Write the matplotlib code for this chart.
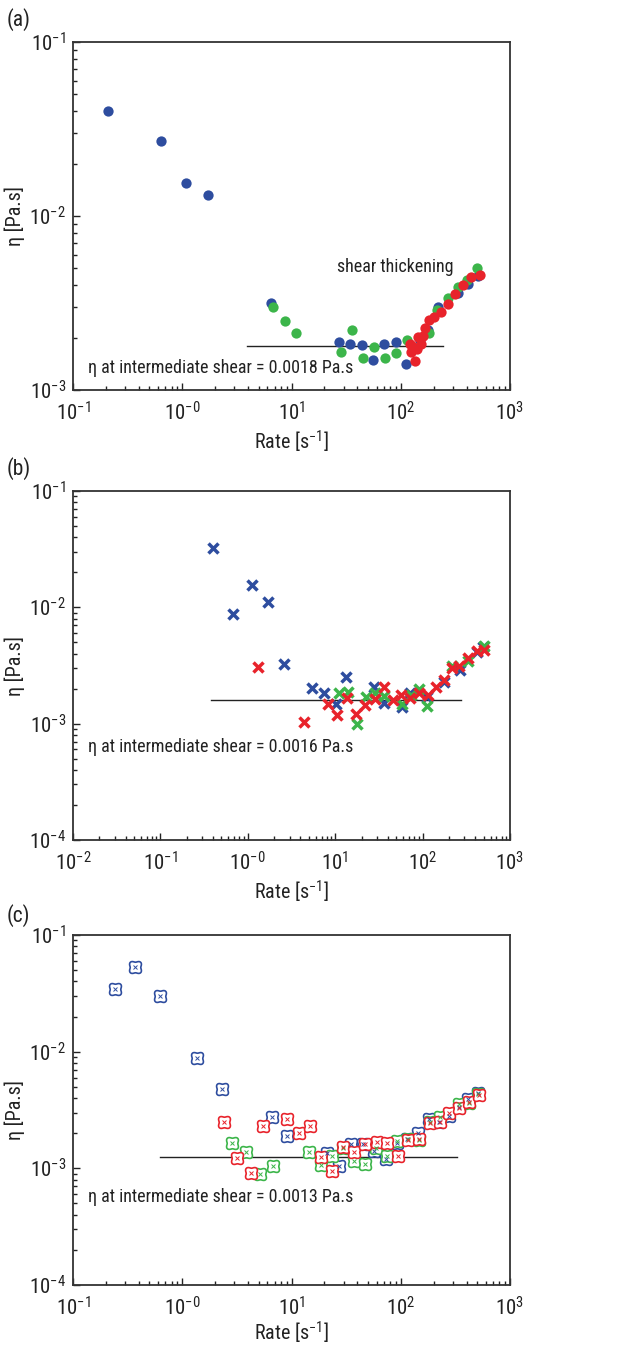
import numpy as np
import matplotlib
matplotlib.use('Agg')
import matplotlib.pyplot as plt
from matplotlib.path import Path
from matplotlib import font_manager as fm
from matplotlib.ticker import FixedLocator, FixedFormatter, NullFormatter

_avail = set(f.name for f in fm.fontManager.ttflist)
_pref = ['Liberation Sans Narrow', 'Arial Narrow', 'Roboto Condensed', 'PT Sans Narrow',
         'Archivo Narrow', 'Asap Condensed', 'Liberation Sans']
MAIN = next(n for n in _pref if n in _avail)
FONT = [MAIN, 'DejaVu Sans']
plt.rcParams['font.family'] = FONT
plt.rcParams['mathtext.fontset'] = 'custom'
plt.rcParams['mathtext.rm'] = MAIN
plt.rcParams['mathtext.it'] = MAIN + ':italic'
plt.rcParams['mathtext.bf'] = MAIN + ':bold'
plt.rcParams['mathtext.default'] = 'regular'

BLUE = '#2e4d9f'
GREEN = '#3cb54a'
RED = '#e8232b'
INK = '#222222'

# ---------------- data: panel (a) ----------------
a_blue_x = [0.207, 0.638, 1.08, 1.72, 6.45, 27.0, 34.3, 43.8, 56.1, 70.8, 89.8, 111.6,
            130, 150, 178.6, 220.6, 336, 415, 513]
a_blue_y = [0.040, 0.0271, 0.0155, 0.01323, 0.00317, 0.00189, 0.00185, 0.00182, 0.00149,
            0.00185, 0.00189, 0.00142, 0.00175, 0.00195, 0.00221, 0.00301, 0.00359, 0.00409, 0.00451]
a_green_x = [6.82, 8.71, 11.1, 28.6, 36.1, 45.5, 57.3, 71.8, 90.6, 113, 181, 213, 269, 332, 401, 495]
a_green_y = [0.00298, 0.00249, 0.00213, 0.00166, 0.00221, 0.00153, 0.00177, 0.00153, 0.00164,
             0.00194, 0.00214, 0.00288, 0.00336, 0.00392, 0.00431, 0.00503]
a_red_x = [121.6, 124, 128, 135, 140, 145, 152, 161, 168, 181, 203, 232, 273, 314, 374, 440, 531]
a_red_y = [0.00185, 0.00166, 0.00178, 0.00146, 0.00173, 0.00202, 0.00185, 0.00204, 0.00226,
           0.00252, 0.00264, 0.00282, 0.00312, 0.00356, 0.00401, 0.00448, 0.00457]
a_line_x = [3.94, 245]
a_line_y = [0.0018, 0.0018]

# ---------------- data: panel (b) ----------------
b_blue_x = [0.404, 0.682, 1.12, 1.69, 2.62, 5.47, 7.51, 10.1, 13.2, 27.8, 36.2, 57.6, 71.8,
            111, 177, 268, 416, 496]
b_blue_y = [0.0324, 0.00873, 0.0157, 0.01107, 0.00327, 0.00203, 0.00184, 0.00149, 0.00250,
            0.00205, 0.00152, 0.00138, 0.00182, 0.00170, 0.00229, 0.00288, 0.00414, 0.00457]
b_red_x = [1.30, 4.44, 8.2, 10.6, 13.5, 17.3, 22.1, 28.5, 36.2, 45.4, 56.6, 71.8, 91.8, 114,
           142, 177, 215, 263, 333, 416, 504]
b_red_y = [0.00306, 0.00104, 0.00149, 0.00119, 0.00165, 0.00122, 0.00144, 0.00163, 0.00205,
           0.00161, 0.00178, 0.00167, 0.00184, 0.00176, 0.00208, 0.00237, 0.00298, 0.00312,
           0.00370, 0.00423, 0.00434]
b_green_x = [11.0, 13.9, 17.9, 22.5, 28.5, 36.2, 57.6, 73.1, 91.8, 113, 219, 333, 504]
b_green_y = [0.00182, 0.00188, 0.00099, 0.00171, 0.00185, 0.00173, 0.00147, 0.00178, 0.00197,
             0.00142, 0.00312, 0.00347, 0.00463]
b_line_x = [0.38, 275]
b_line_y = [0.0016, 0.0016]

# ---------------- data: panel (c) ----------------
c_blue_x = [0.242, 0.369, 0.625, 1.36, 2.30, 6.58, 9.03, 21.3, 27.4, 35.1, 45.5, 57.3, 72.8,
            91.8, 115, 145, 181, 226, 279, 344, 416, 513]
c_blue_y = [0.0344, 0.0532, 0.0302, 0.00889, 0.00479, 0.00277, 0.00190, 0.00136, 0.00105,
            0.00162, 0.00161, 0.00142, 0.00120, 0.00166, 0.00177, 0.00200, 0.00265, 0.00251,
            0.00281, 0.00338, 0.00393, 0.00445]
c_red_x = [2.41, 3.19, 4.22, 5.44, 9.03, 11.8, 14.8, 18.6, 23.6, 29.8, 37.6, 47.4, 60.2, 75.4,
           93.8, 117, 147, 185, 229, 279, 344, 425, 520]
c_red_y = [0.00248, 0.00123, 0.00092, 0.00232, 0.00265, 0.00200, 0.00231, 0.00124, 0.00094,
           0.00151, 0.00139, 0.00162, 0.00169, 0.00166, 0.00128, 0.00175, 0.00177, 0.00243,
           0.00248, 0.00300, 0.00327, 0.00373, 0.00425]
c_green_x = [2.87, 3.84, 5.15, 6.73, 14.6, 18.5, 23.6, 29.8, 37.3, 47.1, 59.0, 74.3, 93.1, 116,
             148, 185, 229, 344, 422, 513]
c_green_y = [0.00166, 0.00137, 0.00089, 0.00105, 0.00139, 0.00106, 0.00128, 0.00148, 0.00116,
             0.00110, 0.00148, 0.00128, 0.00171, 0.00177, 0.00175, 0.00248, 0.00274, 0.00356,
             0.00361, 0.00431]
c_line_x = [0.625, 325]
c_line_y = [0.00125, 0.00125]

# ---------------- ticks / labels ----------------
xt_a = [0.1, 1, 10, 100, 1000]
xl_a = ['$10^{-1}$', '$10^{-0}$', '$10^{1}$', '$10^{2}$', '$10^{3}$']
xt_b = [0.01, 0.1, 1, 10, 100, 1000]
xl_b = ['$10^{-2}$', '$10^{-1}$', '$10^{-0}$', '$10^{1}$', '$10^{2}$', '$10^{3}$']
yt_a = [1e-3, 1e-2, 1e-1]
yl_a = ['$10^{-3}$', '$10^{-2}$', '$10^{-1}$']
yt_bc = [1e-4, 1e-3, 1e-2, 1e-1]
yl_bc = ['$10^{-4}$', '$10^{-3}$', '$10^{-2}$', '$10^{-1}$']

texts = ['\u03b7 at intermediate shear = 0.0018 Pa.s',
         '\u03b7 at intermediate shear = 0.0016 Pa.s',
         '\u03b7 at intermediate shear = 0.0013 Pa.s']
panel_labels = ['(a)', '(b)', '(c)']
xlabel = 'Rate [s$^{-1}$]'
ylabel = '\u03b7 [Pa.s]'

fig = plt.figure(figsize=(6.18, 13.48), dpi=100)
W, H = 618.0, 1348.0


def make_axes(top_px, bot_px):
    return fig.add_axes([73 / W, 1 - bot_px / H, 437 / W, (bot_px - top_px) / H])


def minor_list(lo, hi):
    out = []
    for e in range(lo, hi):
        for m in range(2, 10):
            out.append(m * 10.0 ** e)
    return out


def style(ax, xt, xl, yt, yl):
    ax.set_xscale('log')
    ax.set_yscale('log')
    ax.set_xlim(xt[0], xt[-1])
    ax.set_ylim(yt[0], yt[-1])
    ax.xaxis.set_major_locator(FixedLocator(xt))
    ax.xaxis.set_major_formatter(FixedFormatter(xl))
    ax.yaxis.set_major_locator(FixedLocator(yt))
    ax.yaxis.set_major_formatter(FixedFormatter(yl))
    ax.xaxis.set_minor_locator(FixedLocator(minor_list(int(round(np.log10(xt[0]))), int(round(np.log10(xt[-1]))))))
    ax.yaxis.set_minor_locator(FixedLocator(minor_list(int(round(np.log10(yt[0]))), int(round(np.log10(yt[-1]))))))
    ax.xaxis.set_minor_formatter(NullFormatter())
    ax.yaxis.set_minor_formatter(NullFormatter())
    ax.tick_params(which='both', direction='in', top=False, right=False, labelsize=15,
                   colors=INK, width=1.0)
    ax.tick_params(which='major', length=5)
    ax.tick_params(which='minor', length=3)
    ax.tick_params(axis='x', which='major', pad=8)
    ax.tick_params(axis='y', which='major', pad=5)
    for s in ax.spines.values():
        s.set_linewidth(1.3)
        s.set_color('#333333')
    ax.set_xlabel(xlabel, fontsize=14.5, color=INK)
    ax.set_ylabel(ylabel, fontsize=14.5, color=INK)
    ax.xaxis.set_label_coords(0.5, -0.112)
    ax.yaxis.set_label_coords(-0.11, 0.5)


# clover marker for panel (c)
th = np.linspace(0, 2 * np.pi, 121)
r = 1 - 0.16 * np.cos(4 * th)
clover = Path(np.column_stack([r * np.cos(th), r * np.sin(th)]), closed=True)

# ---------- panel (a) ----------
ax = make_axes(42, 390)
style(ax, xt_a, xl_a, yt_a, yl_a)
ax.plot(a_line_x, a_line_y, color=INK, lw=1.0, zorder=2)
for xs, ys, c in [(a_blue_x, a_blue_y, BLUE), (a_green_x, a_green_y, GREEN), (a_red_x, a_red_y, RED)]:
    ax.plot(xs, ys, 'o', ms=7.4, color=c, mec=c, mew=0, ls='none', zorder=3)
ax.text(0.035, 0.062, texts[0], transform=ax.transAxes, fontsize=13, va='center', ha='left', color=INK)
ax.text(0.603, 0.354, 'shear thickening', transform=ax.transAxes, fontsize=13, va='center', ha='left', color=INK)
fig.text(7 / W, 1 - 20 / H, panel_labels[0], fontsize=15.5, va='center', ha='left', color=INK)

# ---------- panel (b) ----------
ax = make_axes(491, 840)
style(ax, xt_b, xl_b, yt_bc, yl_bc)
ax.plot(b_line_x, b_line_y, color=INK, lw=1.0, zorder=2)
for xs, ys, c in [(b_blue_x, b_blue_y, BLUE), (b_green_x, b_green_y, GREEN), (b_red_x, b_red_y, RED)]:
    ax.plot(xs, ys, 'x', ms=7.8, color=c, mew=2.5, ls='none', zorder=3)
ax.text(0.035, 0.267, texts[1], transform=ax.transAxes, fontsize=13, va='center', ha='left', color=INK)
fig.text(7 / W, 1 - 469 / H, panel_labels[1], fontsize=15.5, va='center', ha='left', color=INK)

# ---------- panel (c) ----------
ax = make_axes(935, 1285)
style(ax, xt_a, xl_a, yt_bc, yl_bc)
ax.xaxis.set_label_coords(0.5, -0.1)
ax.plot(c_line_x, c_line_y, color=INK, lw=1.0, zorder=2)
for xs, ys, c in [(c_blue_x, c_blue_y, BLUE), (c_green_x, c_green_y, GREEN), (c_red_x, c_red_y, RED)]:
    ax.plot(xs, ys, marker=clover, ms=8.5, mfc='white', mec=c, mew=1.2, ls='none', zorder=3)
    ax.plot(xs, ys, marker='x', ms=2.5, color=c, mew=0.7, ls='none', zorder=4)
ax.text(0.035, 0.25, texts[2], transform=ax.transAxes, fontsize=13, va='center', ha='left', color=INK)
fig.text(7 / W, 1 - 916 / H, panel_labels[2], fontsize=15.5, va='center', ha='left', color=INK)

fig.savefig('out.png', dpi=100)
